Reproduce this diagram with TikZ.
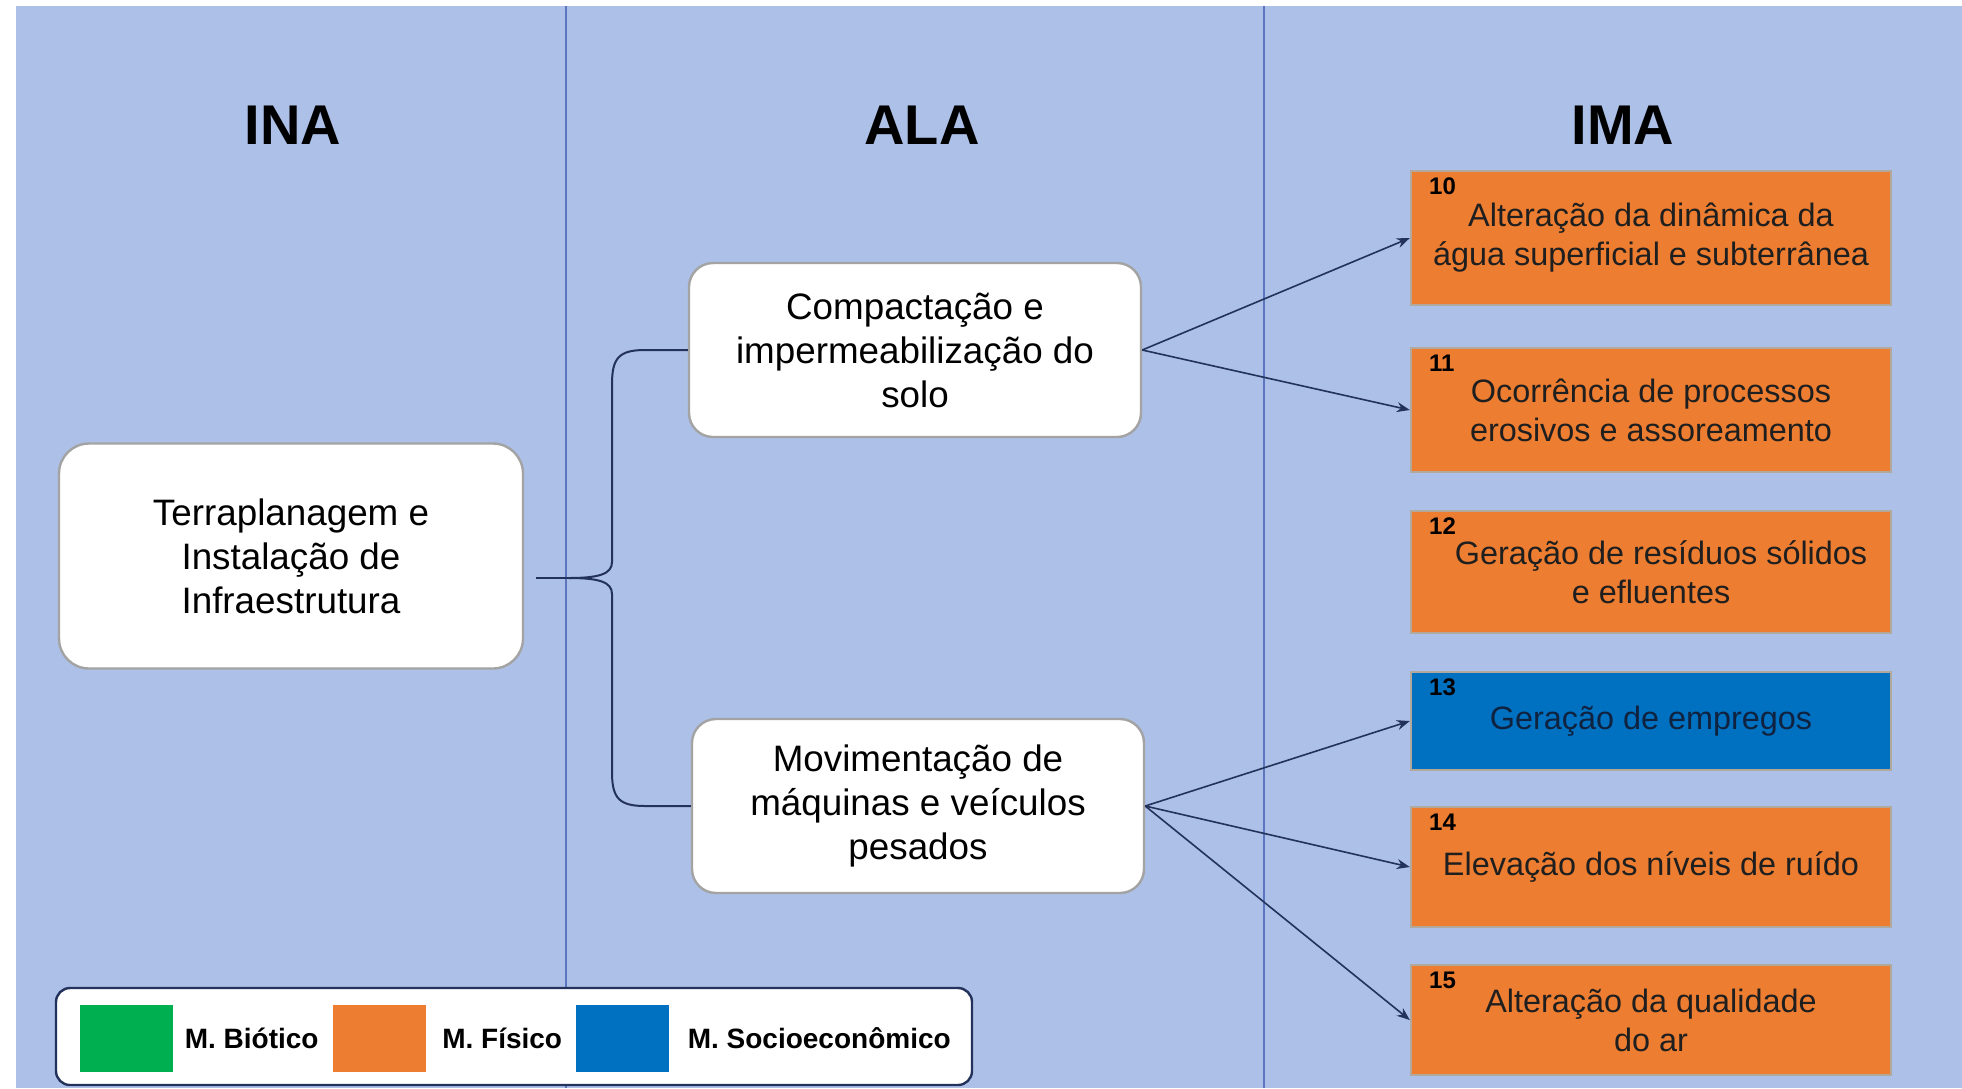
\documentclass[tikz,border=0pt]{standalone}
\usepackage{fontspec}
\setmainfont{Liberation Sans}
\usetikzlibrary{positioning, arrows.meta}
\definecolor{bgblue}{HTML}{ADC0E8}
\definecolor{divider}{HTML}{5B76BE}
\definecolor{fisico}{HTML}{ED7D31}
\definecolor{socio}{HTML}{0070C0}
\definecolor{biotico}{HTML}{00B050}
\definecolor{linkline}{HTML}{22325A}
\definecolor{boxline}{HTML}{A3A3A3}
\definecolor{impactline}{HTML}{B3A89C}

\begin{document}
\begin{tikzpicture}[
    x=0.5pt, y=-0.5pt,
    >={Stealth[length=6.5pt,width=5pt]},
    node distance=18.3pt,
    header/.style={font=\fontsize{28}{32}\selectfont\bfseries},
    block/.style={
        draw=boxline,
        line width=1.2pt,
        fill=white,
        rounded corners=12pt,
        align=center,
        minimum width=226pt,
        minimum height=87pt,
        font=\fontsize{18.4}{22}\selectfont
    },
    impact/.style={
        draw=impactline,
        line width=1.2pt,
        fill=fisico,
        align=center,
        minimum width=240pt,
        text=black!88,
        font=\fontsize{16.2}{19.5}\selectfont
    },
    social/.style={impact, fill=socio, text={rgb,255:red,15;green,35;blue,64}},
    numtxt/.style={anchor=north west, inner sep=0pt, xshift=9.5pt, yshift=-4pt,
        text=black, font=\fontsize{12}{12}\selectfont\bfseries},
    num/.style={label={[numtxt]north west:#1}},
    link/.style={draw=linkline, line width=0.8pt, ->},
    brace/.style={draw=linkline, line width=1pt},
    legendbox/.style={draw=linkline, line width=1.2pt, fill=white, rounded corners=7pt},
    swatch/.style={minimum width=46.5pt, minimum height=33.5pt, inner sep=0pt},
    legtxt/.style={inner sep=0pt, font=\fontsize{14}{16}\selectfont\bfseries}
]

\useasboundingbox (0,0) rectangle (1962,1088);
\fill[white] (0,0) rectangle (1962,1088);
\fill[bgblue] (16,6) rectangle (1962,1088);
\draw[divider, line width=0.7pt] (566,6) -- (566,1088);
\draw[divider, line width=0.7pt] (1264,6) -- (1264,1088);

% column headers
\node[header] (hINA) at (293,125) {INA};
\node[header] (hALA) at (922,125) {ALA};
\node[header] (hIMA) at (1623,125) {IMA};

% INA and ALA
\node[block, rounded corners=15pt, minimum width=232pt, minimum height=112.5pt] (INA) at (291,556) {Terraplanagem e\\Instalação de\\Infraestrutura};
\node[block] (ALA1) at (915,350) {Compactação e\\impermeabilização do\\solo};
\node[block] (ALA2) at (918,806) {Movimentação de\\máquinas e veículos\\pesados};

% IMA
\node[impact, num=10, minimum height=67pt] (I10) at (1651,238) {Alteração da dinâmica da\\água superficial e subterrânea};
\node[impact, num=11, minimum height=62pt, below=20.3pt of I10] (I11) {Ocorrência de processos\\erosivos e assoreamento};
\node[impact, num=12, minimum height=61pt, below=of I11] (I12) {\hspace*{10pt}Geração de resíduos sólidos\\e efluentes};
\node[social, num=13, minimum height=49pt, below=of I12] (I13) {Geração de empregos};
\node[impact, num=14, minimum height=60pt, below=17.3pt of I13] (I14) {Elevação dos níveis de ruído};
\node[impact, num=15, minimum height=55pt, below=17.8pt of I14] (I15) {Alteração da qualidade\\do ar};

% brace INA -> ALA
\coordinate (tip) at (569,578);
\draw[brace] ([xshift=6pt,yshift=-11pt]INA.east) -- (tip);
\draw[brace] (tip) .. controls +(30,0) and +(0,12) .. (612,562) -- (612,384)
    .. controls +(0,-26) and +(-26,0) .. (645,350) -- (ALA1.west);
\draw[brace] (tip) .. controls +(30,0) and +(0,-12) .. (612,594) -- (612,772)
    .. controls +(0,26) and +(-26,0) .. (645,806) -- (ALA2.west);

% ALA -> IMA
\draw[link] (ALA1.east) -- (I10.west);
\draw[link] (ALA1.east) -- (I11.west);
\draw[link] (ALA2.east) -- (I13.west);
\draw[link] (ALA2.east) -- (I14.west);
\draw[link] (ALA2.east) -- (I15.west);

% legend
\node[legendbox, minimum width=458pt, minimum height=48.5pt] (LEG) at (514,1036.5) {};
\node[swatch, fill=biotico] (SWb) at (126.5,1038.5) {};
\node[legtxt, right=5.5pt of SWb] (Lb) {M. Biótico};
\node[swatch, fill=fisico] (SWf) at (379,1038.5) {};
\node[legtxt, right=8pt of SWf] (Lf) {M. Físico};
\node[swatch, fill=socio] (SWs) at (622.5,1038.5) {};
\node[legtxt, right=9pt of SWs] (Ls) {M. Socioeconômico};

\end{tikzpicture}
\end{document}
